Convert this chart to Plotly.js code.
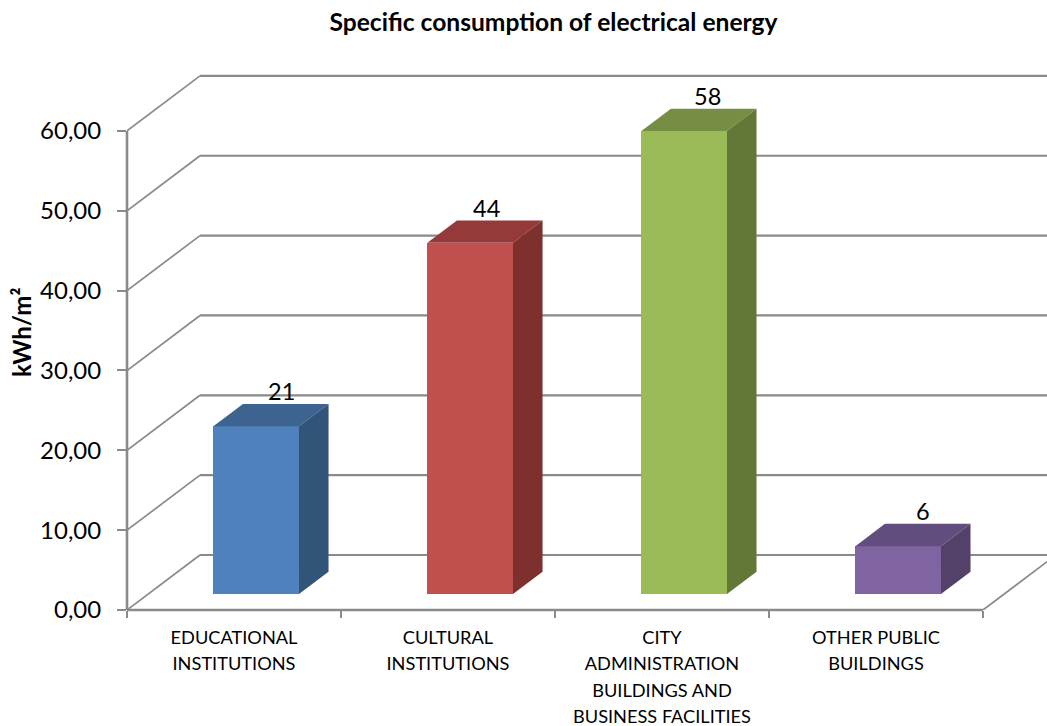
<!DOCTYPE html>
<html>
<head>
<meta charset="utf-8">
<script src="https://cdn.plot.ly/plotly-3.0.1.min.js"></script>
<style>html,body{margin:0;padding:0;background:#fff}</style>
</head>
<body>
<div id="chart" style="width:1047px;height:726px"></div>
<script>
// Specific consumption per building type, kWh/m²
const categories = [
  "EDUCATIONAL<br>INSTITUTIONS",
  "CULTURAL<br>INSTITUTIONS",
  "CITY<br>ADMINISTRATION<br>BUILDINGS AND<br>BUSINESS FACILITIES",
  "OTHER PUBLIC<br>BUILDINGS"
];
const values = [21, 44, 58, 6];
const yTicks = [0, 10, 20, 30, 40, 50, 60];

// Face shades for each column
const frontColors = ["#4f81bd", "#c0504d", "#9bbb59", "#8064a2"];
const topColors   = ["#3d6391", "#953a38", "#768e43", "#624d7f"];
const sideColors  = ["#335479", "#7e302e", "#637737", "#544169"];

// Nudges for the value labels, in pixels from the column's front centre
const labelShiftX = [25, 16, 23, 25];

const FONT = "Lato, Carlito, Calibri, sans-serif";
const GRID = "#8a8a8a";

// Plot frame in pixels, and the scale of one category and one y unit
const W = 1047, H = 726, mL = 127, mT = 60, mB = 116;
const catPx = 214, unitPx = 7.985;
const xMax = (W - mL) / catPx;
const yMax = (H - mT - mB) / unitPx;

// Oblique projection: full floor depth, and where the columns stand inside it
const depthX = 73 / catPx, depthY = 55 / unitPx;
const barStart = 0.29, barDepth = 0.405, barWidth = 0.4;

const frontCentre = i => i + 0.5 + (barStart * 73 + 1) / catPx;
const floorY = barStart * depthY;

function segment(x0, y0, x1, y1, xref, yref, width) {
  return {type: "line", layer: "below", xref: xref || "x", yref: yref || "y",
          x0, y0, x1, y1, line: {color: GRID, width: width || 2}};
}

// Walls: a slanted run from the axis to the back plane, then across the back
const shapes = [];
yTicks.forEach(t => {
  shapes.push(segment(0, t, depthX, t + depthY, "x", "y", 1.7));
  shapes.push(segment(depthX, t + depthY, xMax, t + depthY, "x", "y", 2.2));
});
shapes.push(segment(categories.length, 0, categories.length + depthX, depthY, "x", "y", 1.7));
shapes.push(segment(0, 0, 0, yTicks[yTicks.length - 1], "paper", "y", 2.6));
shapes.push(segment(0, 0, categories.length, 0, "x", "paper", 2.6));

// Column fronts
const traces = [{
  type: "bar",
  x: categories.map((_, i) => frontCentre(i)),
  y: values,
  base: values.map(() => floorY),
  width: barWidth,
  marker: {color: frontColors, line: {width: 0}},
  hoverinfo: "y",
  showlegend: false
}];

// Column tops and right-hand sides
function face(xs, ys, color) {
  return {type: "scatter", mode: "lines", x: xs, y: ys, fill: "toself",
          fillcolor: color, line: {width: 0}, hoverinfo: "skip", showlegend: false};
}
values.forEach((v, i) => {
  const l = frontCentre(i) - barWidth / 2, r = l + barWidth;
  const ox = barDepth * depthX, oy = barDepth * depthY;
  const top = floorY + v;
  traces.push(face([l, r, r + ox, l + ox, l], [top, top, top + oy, top + oy, top], topColors[i]));
  traces.push(face([r, r + ox, r + ox, r, r], [floorY, floorY + oy, top + oy, top, floorY], sideColors[i]));
});

// Value labels above the columns
const annotations = values.map((v, i) => ({
  xref: "x", yref: "y", x: frontCentre(i), y: floorY + v,
  xshift: labelShiftX[i], yshift: 35, showarrow: false,
  text: String(v), font: {family: FONT, size: 23.5, color: "#000"}
}));

// Vertical axis caption
annotations.push({
  xref: "paper", yref: "paper",
  x: (21 - mL) / (W - mL), y: (H - mB - 333) / (H - mT - mB),
  xanchor: "center", yanchor: "middle", textangle: -90, showarrow: false,
  text: "kWh/m²", font: {family: FONT, size: 24, weight: 700, color: "#000"}
});

const layout = {
  width: W, height: H,
  margin: {l: mL, r: 0, t: mT, b: mB, autoexpand: false},
  paper_bgcolor: "#fff", plot_bgcolor: "rgba(0,0,0,0)",
  separators: ",.",
  font: {family: FONT, color: "#000"},
  title: {
    text: "Specific consumption of electrical energy",
    font: {family: FONT, size: 24.6, weight: 700, color: "#000"},
    x: (553.5 - mL) / (W - mL), xref: "paper", xanchor: "center",
    y: 1 - 22 / H, yref: "container", yanchor: "middle"
  },
  bargap: 0,
  shapes, annotations,
  xaxis: {
    range: [0, xMax], fixedrange: true, showgrid: false, zeroline: false, showline: false,
    tickmode: "array",
    tickvals: categories.map((_, i) => i + 0.5),
    ticktext: categories.map(c => c.split("<br>").map(s => `<span style="font-size:18.2px">${s}</span>`).join("<br>")),
    tickfont: {family: FONT, size: 20.2, color: "#000"},
    ticks: "", ticklen: 0, ticklabelstandoff: 13,
    minor: {tickmode: "array", tickvals: categories.map((_, i) => i).concat(categories.length),
            ticks: "outside", ticklen: 7, tickcolor: GRID, tickwidth: 1.5, showgrid: false}
  },
  yaxis: {
    range: [0, yMax], fixedrange: true, showgrid: false, zeroline: false, showline: false,
    tickmode: "array", tickvals: yTicks, tickformat: ".2f",
    ticks: "outside", ticklen: 9, tickcolor: GRID, tickwidth: 1.5,
    ticklabelstandoff: 11,
    tickfont: {family: FONT, size: 24, color: "#000"}
  }
};

Plotly.newPlot("chart", traces, layout, {displayModeBar: false, responsive: false});
</script>
</body>
</html>
